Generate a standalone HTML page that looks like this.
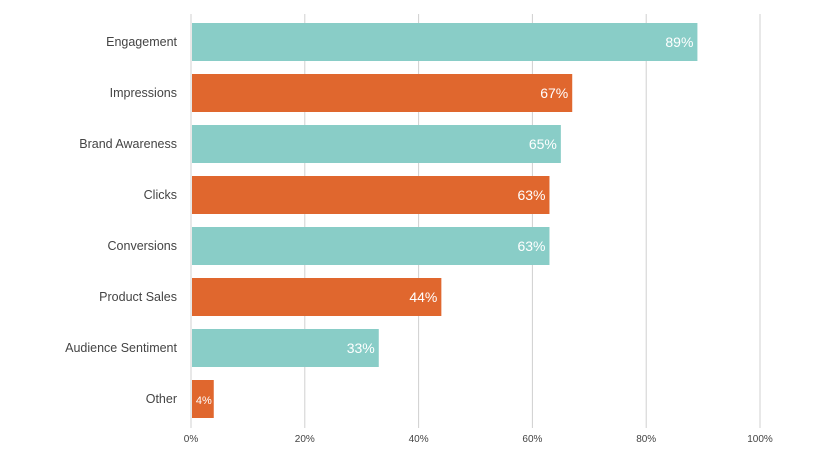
<!DOCTYPE html>
<html><head><meta charset="utf-8"><style>
body{margin:0;background:#fff;font-family:"Liberation Sans",Arial,sans-serif}
svg{display:block}
</style></head><body>
<svg id="chart" width="816" height="466"></svg>
<script>
const categories=["Engagement","Impressions","Brand Awareness","Clicks","Conversions","Product Sales","Audience Sentiment","Other"];
const values=[89,67,65,63,63,44,33,4];
const ticks=[0,20,40,60,80,100];
const tickLabels=["0%","20%","40%","60%","80%","100%"];
const colors=["#89cdc7","#e0672e"];
const svg=document.getElementById('chart');
const NS='http://www.w3.org/2000/svg';
const x=v=>191+5.69*v;
const y=i=>23+51*i;
const bh=38;
function mk(t,a){const e=document.createElementNS(NS,t);for(const k in a)e.setAttribute(k,a[k]);svg.appendChild(e);return e;}
ticks.forEach((t,i)=>{
  const g=mk('line',{x1:x(t),x2:x(t),y1:14,y2:428,stroke:'#d0d0d0','stroke-width':1});
  
  
  const l=mk('text',{x:x(t),y:442,'text-anchor':'middle','font-size':10,fill:'#444'});
  l.textContent=tickLabels[i];
  
  
});
categories.forEach((c,i)=>{
  const b=mk('rect',{x:x(0)+1,y:y(i),width:x(values[i])-x(0)-1,height:bh,fill:colors[i%2]});
  
  
  const l=mk('text',{x:177,y:y(i)+bh/2+4,'text-anchor':'end','font-size':12.5,fill:'#444'});
  l.textContent=c;
  
  
  const small=values[i]<10;
  const v=mk('text',{x:x(values[i])-(small?2:4),y:y(i)+bh/2+5,'text-anchor':'end','font-size':small?11:14,fill:'#fff'});
  v.textContent=values[i]+'%';
  
  
});
</script>
</body></html>
